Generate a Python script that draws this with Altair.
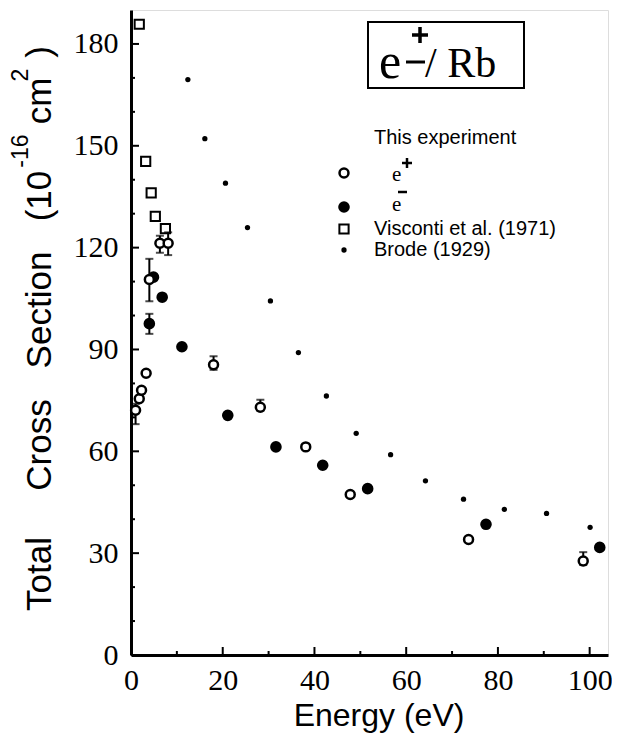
import altair as alt
import pandas as pd

# ---- data ----
eplus_E = [1.0, 1.8, 2.3, 3.3, 4.0, 6.3, 8.1, 18.0, 28.2, 38.1, 47.8, 73.6, 98.6]
eplus_S = [72.1, 75.5, 78.0, 83.0, 110.6, 121.3, 121.3, 85.5, 73.0, 61.3, 47.3, 34.0, 27.7]

eminus_E = [4.0, 4.9, 6.8, 11.1, 21.1, 31.6, 41.8, 51.6, 77.4, 102.2]
eminus_S = [97.6, 111.3, 105.4, 90.8, 70.6, 61.3, 55.9, 49.0, 38.5, 31.7]

visconti_E = [1.8, 3.2, 4.4, 5.3, 7.5]
visconti_S = [185.8, 145.4, 136.1, 129.2, 125.6]

brode_E = [12.4, 16.1, 20.6, 25.4, 30.4, 36.5, 42.6, 49.1, 56.6, 64.2, 72.5, 81.4, 90.6, 100.1]
brode_S = [169.5, 152.1, 139.0, 125.9, 104.3, 89.1, 76.3, 65.3, 59.0, 51.3, 45.9, 42.9, 41.7, 37.6]

errp_E = [1.0, 4.0, 6.3, 8.1, 18.0, 28.2, 98.6]
errp_lo = [68.0, 104.2, 118.5, 117.8, 84.0, 72.0, 26.5]
errp_hi = [74.0, 116.7, 123.5, 124.5, 88.0, 75.2, 30.3]
errm_E = [4.0]
errm_lo = [94.6]
errm_hi = [100.5]

x_major = [0, 20, 40, 60, 80, 100]
x_minor = [10, 30, 50, 70, 90]
y_major = [0, 30, 60, 90, 120, 150, 180]
y_minor = [10, 20, 40, 50, 70, 80, 100, 110, 130, 140, 160, 170]

# ---- layout constants ----
OX, OY = 131, 10          # plot origin in page pixels
W, H = 477, 645

xs = alt.Scale(domain=[0, 104], nice=False, zero=False)
ys = alt.Scale(domain=[0, 190], nice=False, zero=False)
xaxis = alt.Axis(values=x_major, title=None, grid=False, ticks=True, tickSize=0,
                 labelFont="Liberation Sans Narrow", labelFontSize=30, labelPadding=10,
                 labelColor="black", domainColor="black", domainWidth=3, labelFlush=False)
yaxis = alt.Axis(values=y_major, title=None, grid=False, ticks=True, tickSize=0,
                 labelFont="Liberation Sans Narrow", labelFontSize=30, labelPadding=13,
                 labelColor="black", domainColor="black", domainWidth=3, labelFlush=False)


def X(field):
    return alt.X(field + ":Q", scale=xs, axis=xaxis)


def Y(field):
    return alt.Y(field + ":Q", scale=ys, axis=yaxis)


one = pd.DataFrame({"k": [0]})


def txt(s, x, y, size, font="Liberation Sans", angle=0, align="left",
        baseline="alphabetic", weight="normal"):
    return alt.Chart(one).mark_text(
        text=s, font=font, fontSize=size, angle=angle, align=align,
        baseline=baseline, fontWeight=weight, color="black"
    ).encode(x=alt.value(x - OX), y=alt.value(y - OY))


def hline(x1, x2, y, sw):
    return alt.Chart(one).mark_rule(color="black", strokeWidth=sw).encode(
        x=alt.value(x1 - OX), x2=alt.value(x2 - OX), y=alt.value(y - OY))


def vline(x, y1, y2, sw):
    return alt.Chart(one).mark_rule(color="black", strokeWidth=sw).encode(
        x=alt.value(x - OX), y=alt.value(y1 - OY), y2=alt.value(y2 - OY))


def marker(x, y, shape, filled, size, sw=0):
    kw = dict(shape=shape, filled=filled, size=size, color="black", opacity=1)
    if not filled:
        kw["strokeWidth"] = sw
    return alt.Chart(one).mark_point(**kw).encode(x=alt.value(x - OX), y=alt.value(y - OY))


df_p = pd.DataFrame({"E": eplus_E, "S": eplus_S})
df_m = pd.DataFrame({"E": eminus_E, "S": eminus_S})
df_v = pd.DataFrame({"E": visconti_E, "S": visconti_S})
df_b = pd.DataFrame({"E": brode_E, "S": brode_S})
df_err = pd.DataFrame({"E": errp_E + errm_E, "lo": errp_lo + errm_lo, "hi": errp_hi + errm_hi})
df_caps = pd.DataFrame({"E": (errp_E + errm_E) * 2,
                        "S": errp_lo + errm_lo + errp_hi + errm_hi})

layers = []

# axis ticks (inward)
layers.append(alt.Chart(pd.DataFrame({"S": y_major})).mark_rule(color="black", strokeWidth=2)
              .encode(y=Y("S"), x=alt.value(0), x2=alt.value(8)))
layers.append(alt.Chart(pd.DataFrame({"S": y_minor})).mark_rule(color="black", strokeWidth=2)
              .encode(y=Y("S"), x=alt.value(0), x2=alt.value(4)))
layers.append(alt.Chart(pd.DataFrame({"E": x_major})).mark_rule(color="black", strokeWidth=2)
              .encode(x=X("E"), y=alt.value(H), y2=alt.value(H - 8)))
layers.append(alt.Chart(pd.DataFrame({"E": x_minor})).mark_rule(color="black", strokeWidth=2)
              .encode(x=X("E"), y=alt.value(H), y2=alt.value(H - 4)))

# error bars
layers.append(alt.Chart(df_err).mark_rule(color="black", strokeWidth=2)
              .encode(x=X("E"), y=Y("lo"), y2="hi:Q"))
layers.append(alt.Chart(df_caps).mark_tick(color="black", orient="horizontal", size=8, thickness=2)
              .encode(x=X("E"), y=Y("S")))

# data series
layers.append(alt.Chart(df_v).mark_point(shape="square", filled=False, color="black",
                                         strokeWidth=2, size=85, opacity=1)
              .encode(x=X("E"), y=Y("S")))
layers.append(alt.Chart(df_b).mark_point(shape="circle", filled=True, color="black",
                                         size=28, opacity=1)
              .encode(x=X("E"), y=Y("S")))
layers.append(alt.Chart(df_m).mark_point(shape="circle", filled=True, color="black",
                                         size=135, opacity=1)
              .encode(x=X("E"), y=Y("S")))
layers.append(alt.Chart(df_p).mark_point(shape="circle", filled=False, color="black", fill="white",
                                         strokeWidth=2.5, size=80, opacity=1)
              .encode(x=X("E"), y=Y("S")))

# e+/- Rb box
layers.append(alt.Chart(one).mark_rect(fillOpacity=0, stroke="black", strokeWidth=2)
              .encode(x=alt.value(368 - OX), x2=alt.value(524 - OX),
                      y=alt.value(22 - OY), y2=alt.value(88 - OY)))
layers.append(txt("e", 379, 78, 50, font="Liberation Serif"))
layers.append(hline(406, 425, 62, 3))
layers.append(hline(412, 428, 35, 3.5))
layers.append(vline(420, 27, 43, 3.5))
layers.append(txt("/ Rb", 425, 77, 42, font="Liberation Serif"))

# legend
LX = 344
TX = 374
layers.append(txt("This experiment", TX, 138, 20, baseline="middle"))
layers.append(marker(LX, 173, "circle", False, 80, 2.5))
layers.append(txt("e", 392, 181, 21, font="Liberation Serif"))
layers.append(hline(402, 412, 163, 2.5))
layers.append(vline(407, 158, 168, 2.5))
layers.append(marker(LX, 207, "circle", True, 135))
layers.append(txt("e", 392, 211, 21, font="Liberation Serif"))
layers.append(hline(398, 407, 192, 2.5))
layers.append(marker(LX, 229, "square", False, 85, 2))
layers.append(txt("Visconti et al. (1971)", TX, 229, 20, baseline="middle"))
layers.append(marker(LX, 250, "circle", True, 28))
layers.append(txt("Brode (1929)", TX, 250, 20, baseline="middle"))

# axis titles
layers.append(txt("Energy (eV)", 379, 726, 32, align="center"))
TB = 51  # baseline x of rotated title
layers.append(txt("Total", TB, 574, 35, angle=270, align="center"))
layers.append(txt("Cross", TB, 445, 35, angle=270, align="center"))
layers.append(txt("Section", TB, 310, 35, angle=270, align="center"))
layers.append(txt("(10", TB, 196, 35, angle=270, align="center"))
layers.append(txt("-16", 28, 151, 23, angle=270, align="center"))
layers.append(txt("cm", TB, 101, 35, angle=270, align="center"))
layers.append(txt("2", 28, 75, 23, angle=270, align="center"))
layers.append(txt(")", TB, 52, 35, angle=270, align="center"))

chart = alt.layer(*layers).properties(
    width=W, height=H,
    autosize=alt.AutoSizeParams(type="none"),
    padding={"left": OX - 8, "top": OY - 8, "right": 4, "bottom": 78},
).configure_view(stroke="black", strokeWidth=2).configure(background="white")

chart.save("out.html", embed_options={"renderer": "svg", "actions": False})
